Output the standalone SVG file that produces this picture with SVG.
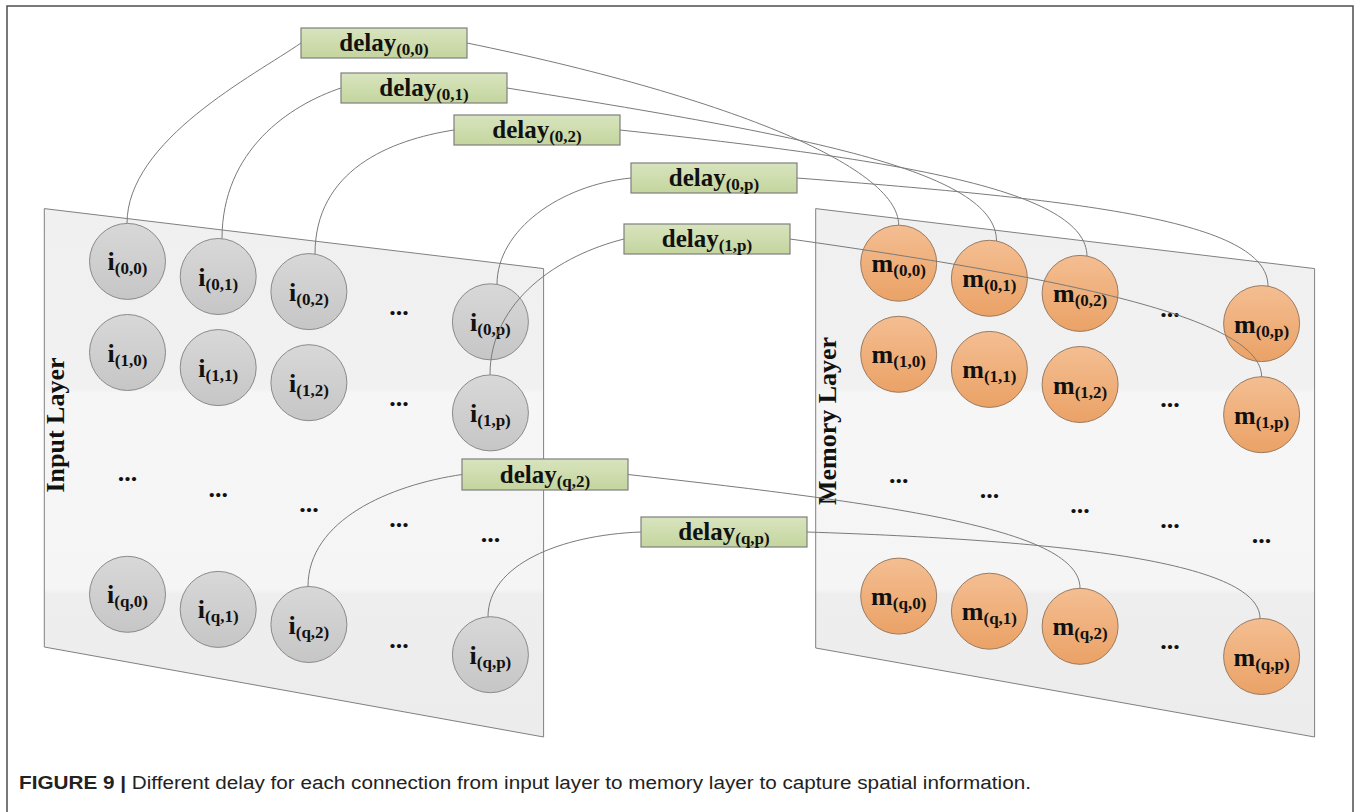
<svg xmlns="http://www.w3.org/2000/svg" width="1360" height="812" viewBox="0 0 1360 812">
<defs>
<linearGradient id="gPlane" x1="0" y1="0" x2="0" y2="1">
<stop offset="0" stop-color="#f0f0f0"/>
<stop offset="0.34" stop-color="#f1f1f1"/>
<stop offset="0.35" stop-color="#f6f6f6"/>
<stop offset="0.72" stop-color="#f5f5f5"/>
<stop offset="0.73" stop-color="#eeeeee"/>
<stop offset="1" stop-color="#ececec"/>
</linearGradient>
<linearGradient id="gGray" x1="0" y1="0" x2="0" y2="1">
<stop offset="0" stop-color="#d8d8d8"/>
<stop offset="1" stop-color="#c6c6c6"/>
</linearGradient>
<linearGradient id="gOrange" x1="0" y1="0" x2="0" y2="1">
<stop offset="0" stop-color="#f4be92"/>
<stop offset="1" stop-color="#eaa266"/>
</linearGradient>
<linearGradient id="gGreen" x1="0" y1="0" x2="0" y2="1">
<stop offset="0" stop-color="#d8e4be"/>
<stop offset="1" stop-color="#c4d59e"/>
</linearGradient>
</defs>
<style>
.frame{fill:#ffffff;stroke:#4d4d4d;stroke-width:1.5}
.plane{fill:url(#gPlane);stroke:#808080;stroke-width:1}
.in{fill:url(#gGray);stroke:#8a8a8a;stroke-width:1}
.mem{fill:url(#gOrange);stroke:#9a7a60;stroke-width:1}
.box{fill:url(#gGreen);stroke:#7f7f7f;stroke-width:1.2}
.lbl{font-family:"Liberation Serif","Times New Roman",serif;font-weight:bold;font-size:26px;fill:#111;text-anchor:middle}
.sub{font-size:17px}
.dl{font-size:25px}
.dots{font-family:"Liberation Serif","Times New Roman",serif;font-weight:bold;font-size:26px;fill:#111;text-anchor:middle}
.layer{font-family:"Liberation Serif","Times New Roman",serif;font-weight:bold;font-size:26px;fill:#111;text-anchor:middle}
.conn path{fill:none;stroke:#7a7a7a;stroke-width:1}
.cap{font-family:"Liberation Sans",Arial,sans-serif;font-size:18px;fill:#222}
</style>
<rect class="frame" x="7" y="6" width="1346" height="830"/>

<g id="input-layer">
<path class="plane" d="M44.3,208.6 L543.6,268.6 L543.6,737 L44.3,647 Z"/>
<text class="layer" transform="translate(64,425) rotate(-90)">Input Layer</text>
</g>
<g id="memory-layer">
<path class="plane" d="M815.7,208.6 L1314.6,268.6 L1314.6,737 L815.7,648 Z"/>
<text class="layer" transform="translate(836,421) rotate(-90)">Memory Layer</text>
</g>

<g id="input-dots">
<text class="dots" x="398.9" y="315">...</text>
<text class="dots" x="398.9" y="405.7">...</text>
<text class="dots" x="127.5" y="481.1">...</text>
<text class="dots" x="218.2" y="496.5">...</text>
<text class="dots" x="308.9" y="511.5">...</text>
<text class="dots" x="398.9" y="526.5">...</text>
<text class="dots" x="490.4" y="541.5">...</text>
<text class="dots" x="398.9" y="647.9">...</text>
</g>
<g id="memory-dots">
<text class="dots" x="1170.1" y="316.5">...</text>
<text class="dots" x="1170.1" y="407.2">...</text>
<text class="dots" x="898.7" y="482.6">...</text>
<text class="dots" x="989.4" y="498">...</text>
<text class="dots" x="1080.1" y="513">...</text>
<text class="dots" x="1170.1" y="528">...</text>
<text class="dots" x="1261.6" y="543">...</text>
<text class="dots" x="1170.1" y="649.4">...</text>
</g>

<g id="i00"><circle class="in" cx="127.5" cy="261.4" r="38"/><text class="lbl" x="127.5" y="270.4">i<tspan class="sub" dy="4">(0,0)</tspan></text></g>
<g id="i01"><circle class="in" cx="218.2" cy="276.5" r="38"/><text class="lbl" x="218.2" y="285.5">i<tspan class="sub" dy="4">(0,1)</tspan></text></g>
<g id="i02"><circle class="in" cx="308.9" cy="291.6" r="38"/><text class="lbl" x="308.9" y="300.6">i<tspan class="sub" dy="4">(0,2)</tspan></text></g>
<g id="i0p"><circle class="in" cx="490.4" cy="321.8" r="38"/><text class="lbl" x="490.4" y="330.8">i<tspan class="sub" dy="4">(0,p)</tspan></text></g>
<g id="i10"><circle class="in" cx="127.5" cy="352.5" r="38"/><text class="lbl" x="127.5" y="361.5">i<tspan class="sub" dy="4">(1,0)</tspan></text></g>
<g id="i11"><circle class="in" cx="218.2" cy="367.6" r="38"/><text class="lbl" x="218.2" y="376.6">i<tspan class="sub" dy="4">(1,1)</tspan></text></g>
<g id="i12"><circle class="in" cx="308.9" cy="382.7" r="38"/><text class="lbl" x="308.9" y="391.7">i<tspan class="sub" dy="4">(1,2)</tspan></text></g>
<g id="i1p"><circle class="in" cx="490.4" cy="412.9" r="38"/><text class="lbl" x="490.4" y="421.9">i<tspan class="sub" dy="4">(1,p)</tspan></text></g>
<g id="iq0"><circle class="in" cx="127.5" cy="594.3" r="38"/><text class="lbl" x="127.5" y="603.3">i<tspan class="sub" dy="4">(q,0)</tspan></text></g>
<g id="iq1"><circle class="in" cx="218.2" cy="609.4" r="38"/><text class="lbl" x="218.2" y="618.4">i<tspan class="sub" dy="4">(q,1)</tspan></text></g>
<g id="iq2"><circle class="in" cx="308.9" cy="624.5" r="38"/><text class="lbl" x="308.9" y="633.5">i<tspan class="sub" dy="4">(q,2)</tspan></text></g>
<g id="iqp"><circle class="in" cx="490.4" cy="654.7" r="38"/><text class="lbl" x="490.4" y="663.7">i<tspan class="sub" dy="4">(q,p)</tspan></text></g>

<g id="m00"><circle class="mem" cx="898.7" cy="263.2" r="38"/><text class="lbl" x="898.7" y="272.2">m<tspan class="sub" dy="4">(0,0)</tspan></text></g>
<g id="m01"><circle class="mem" cx="989.4" cy="278.3" r="38"/><text class="lbl" x="989.4" y="287.3">m<tspan class="sub" dy="4">(0,1)</tspan></text></g>
<g id="m02"><circle class="mem" cx="1080.1" cy="293.4" r="38"/><text class="lbl" x="1080.1" y="302.4">m<tspan class="sub" dy="4">(0,2)</tspan></text></g>
<g id="m0p"><circle class="mem" cx="1261.6" cy="323.6" r="38"/><text class="lbl" x="1261.6" y="332.6">m<tspan class="sub" dy="4">(0,p)</tspan></text></g>
<g id="m10"><circle class="mem" cx="898.7" cy="354.3" r="38"/><text class="lbl" x="898.7" y="363.3">m<tspan class="sub" dy="4">(1,0)</tspan></text></g>
<g id="m11"><circle class="mem" cx="989.4" cy="369.4" r="38"/><text class="lbl" x="989.4" y="378.4">m<tspan class="sub" dy="4">(1,1)</tspan></text></g>
<g id="m12"><circle class="mem" cx="1080.1" cy="384.5" r="38"/><text class="lbl" x="1080.1" y="393.5">m<tspan class="sub" dy="4">(1,2)</tspan></text></g>
<g id="m1p"><circle class="mem" cx="1261.6" cy="414.7" r="38"/><text class="lbl" x="1261.6" y="423.7">m<tspan class="sub" dy="4">(1,p)</tspan></text></g>
<g id="mq0"><circle class="mem" cx="898.7" cy="596.1" r="38"/><text class="lbl" x="898.7" y="605.1">m<tspan class="sub" dy="4">(q,0)</tspan></text></g>
<g id="mq1"><circle class="mem" cx="989.4" cy="611.2" r="38"/><text class="lbl" x="989.4" y="620.2">m<tspan class="sub" dy="4">(q,1)</tspan></text></g>
<g id="mq2"><circle class="mem" cx="1080.1" cy="626.3" r="38"/><text class="lbl" x="1080.1" y="635.3">m<tspan class="sub" dy="4">(q,2)</tspan></text></g>
<g id="mqp"><circle class="mem" cx="1261.6" cy="656.5" r="38"/><text class="lbl" x="1261.6" y="665.5">m<tspan class="sub" dy="4">(q,p)</tspan></text></g>

<g id="connectors" class="conn">
<path d="M301,43 C255,75 127,140 127,223.5"/>
<path d="M467,43 C720,95 898.7,165 898.7,225.2"/>
<path d="M341,88 C290,105 222,150 222,238.7"/>
<path d="M507,88 C800,135 996.5,170 996.5,241"/>
<path d="M454,130 C390,140 315,170 315,254.2"/>
<path d="M620,130 C900,160 1087,190 1087,256.5"/>
<path d="M631,178 C560,185 497,230 497,284.4"/>
<path d="M797,178 C1080,200 1268,220 1268,286.2"/>
<path d="M624,239 C560,255 490,300 490,374.9"/>
<path d="M790,239 C1080,280 1261.6,320 1261.6,376.7"/>
<path d="M462,474.5 C390,485 308,520 308,586.5"/>
<path d="M628,474.5 C900,505 1080,530 1080,588.3"/>
<path d="M641,532 C560,535 488,565 488,616.8"/>
<path d="M807,532 C1050,540 1260,560 1260,618.5"/>
</g>

<g id="delay00"><rect class="box" x="301" y="28" width="166" height="30"/><text class="lbl dl" x="384" y="51">delay<tspan class="sub" dy="4">(0,0)</tspan></text></g>
<g id="delay01"><rect class="box" x="341" y="73" width="166" height="30"/><text class="lbl dl" x="424" y="96">delay<tspan class="sub" dy="4">(0,1)</tspan></text></g>
<g id="delay02"><rect class="box" x="454" y="115" width="166" height="30"/><text class="lbl dl" x="537" y="138">delay<tspan class="sub" dy="4">(0,2)</tspan></text></g>
<g id="delay0p"><rect class="box" x="631" y="163" width="166" height="30"/><text class="lbl dl" x="714" y="186">delay<tspan class="sub" dy="4">(0,p)</tspan></text></g>
<g id="delay1p"><rect class="box" x="624" y="224" width="166" height="30"/><text class="lbl dl" x="707" y="247">delay<tspan class="sub" dy="4">(1,p)</tspan></text></g>
<g id="delayq2"><rect class="box" x="462" y="459" width="166" height="31"/><text class="lbl dl" x="545" y="482.5">delay<tspan class="sub" dy="4">(q,2)</tspan></text></g>
<g id="delayqp"><rect class="box" x="641" y="517" width="166" height="30"/><text class="lbl dl" x="724" y="540">delay<tspan class="sub" dy="4">(q,p)</tspan></text></g>

<text class="cap" x="19" y="789" textLength="1012" lengthAdjust="spacingAndGlyphs"><tspan font-weight="bold">FIGURE 9 |</tspan> Different delay for each connection from input layer to memory layer to capture spatial information.</text>
</svg>
